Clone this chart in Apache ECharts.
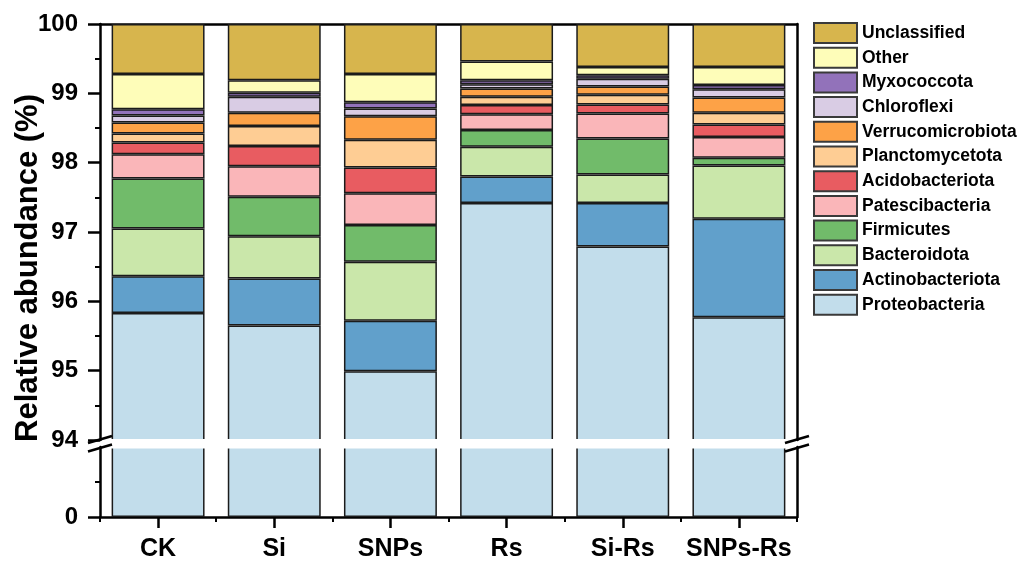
<!DOCTYPE html>
<html>
<head>
<meta charset="utf-8">
<script src="https://cdn.jsdelivr.net/npm/echarts@6/dist/echarts.min.js"></script>
<style>
  html, body { margin: 0; padding: 0; background: #fff; }
  #chart { width: 1027px; height: 568px; }
</style>
</head>
<body>
<div id="chart"></div>
<script>
// Groups on the x axis
const groups = ['CK', 'Si', 'SNPs', 'Rs', 'Si-Rs', 'SNPs-Rs'];

// Relative abundance (%) of each phylum per group, stacked bottom to top
const proteobacteria    = [95.83, 95.65, 94.99, 97.42, 96.79, 95.77];
const actinobacteriota  = [0.53, 0.68, 0.73, 0.38, 0.63, 1.42];
const bacteroidota      = [0.69, 0.61, 0.85, 0.43, 0.41, 0.77];
const firmicutes        = [0.72, 0.57, 0.53, 0.24, 0.52, 0.11];
const patescibacteria   = [0.35, 0.44, 0.46, 0.23, 0.36, 0.30];
const acidobacteriota   = [0.17, 0.29, 0.37, 0.13, 0.13, 0.18];
const planctomycetota   = [0.13, 0.29, 0.40, 0.12, 0.14, 0.17];
const verrucomicrobiota = [0.16, 0.19, 0.34, 0.12, 0.12, 0.22];
const chloroflexi       = [0.10, 0.23, 0.11, 0.06, 0.11, 0.12];
const myxococcota       = [0.09, 0.06, 0.09, 0.06, 0.05, 0.06];
const other             = [0.51, 0.18, 0.41, 0.27, 0.12, 0.26];
const unclassified      = [0.72, 0.81, 0.72, 0.54, 0.62, 0.62];

// Tick values of the two axis segments
const upperTicks = [94, 95, 96, 97, 98, 99, 100];
const lowerTicks = [0];

const phyla = [
  ['Proteobacteria',    proteobacteria,    '#c2ddeb'],
  ['Actinobacteriota',  actinobacteriota,  '#61a0cb'],
  ['Bacteroidota',      bacteroidota,      '#cae7aa'],
  ['Firmicutes',        firmicutes,        '#71bb6a'],
  ['Patescibacteria',   patescibacteria,   '#fab6b9'],
  ['Acidobacteriota',   acidobacteriota,   '#e85c61'],
  ['Planctomycetota',   planctomycetota,   '#fecd94'],
  ['Verrucomicrobiota', verrucomicrobiota, '#fda247'],
  ['Chloroflexi',       chloroflexi,       '#d9cce4'],
  ['Myxococcota',       myxococcota,       '#9272ba'],
  ['Other',             other,             '#fefdb9'],
  ['Unclassified',      unclassified,      '#d7b54d']
];

const FONT = '"Liberation Sans", Arial, Helvetica, sans-serif';
const AXIS_W = 2.5;

// layout of the broken axis: upper segment 94-100, lower segment 0-94 (compressed)
const L = 100, W = 697;
const upTop = 24, upH = 416;
const loTop = 447, loH = 70;

const chart = echarts.init(document.getElementById('chart'));

const barStyle = c => ({ color: c, borderColor: '#1b1b1b', borderWidth: 1.5 });

const series = phyla.map(([name, values, color]) => ({
  name, type: 'bar', stack: 'total', xAxisIndex: 0, yAxisIndex: 0,
  barWidth: '80%', data: values, itemStyle: barStyle(color), emphasis: { disabled: true }
}));
// bottom segment below the break: only the first phylum reaches it
series.push({
  name: 'Proteobacteria', type: 'bar', xAxisIndex: 1, yAxisIndex: 2,
  barWidth: '80%', data: proteobacteria, itemStyle: barStyle(phyla[0][2]), emphasis: { disabled: true }
});

const blackLine = { show: true, lineStyle: { color: '#000', width: AXIS_W } };

// break marks: white band across the plot and paired slashes on both side axes
const yBreakTop = upTop + upH, yBreakBot = loTop;
const slash = (cx, cy) => ({
  type: 'line', z: 101, silent: true,
  shape: { x1: cx - 12, y1: cy + 3.5, x2: cx + 12, y2: cy - 3.5 },
  style: { stroke: '#000', lineWidth: AXIS_W }
});

chart.setOption({
  animation: false,
  backgroundColor: '#fff',
  grid: [
    { left: L, top: upTop, width: W, height: upH },
    { left: L, top: loTop, width: W, height: loH }
  ],
  legend: {
    orient: 'vertical', left: 813, top: 22, padding: 0,
    icon: 'rect',
    itemWidth: 43, itemHeight: 20, itemGap: 2.7,
    selectedMode: false,
    data: phyla.map(p => p[0]).reverse(),
    itemStyle: { borderColor: '#3a3a3a', borderWidth: 2 },
    textStyle: { fontFamily: FONT, fontWeight: 'bold', fontSize: 17.5, color: '#000' }
  },
  xAxis: [
    { gridIndex: 0, type: 'category', data: groups, position: 'top',
      axisLine: blackLine, axisTick: { show: false }, axisLabel: { show: false } },
    { gridIndex: 1, type: 'category', data: groups, position: 'bottom',
      axisLine: blackLine,
      axisTick: { show: true, alignWithLabel: true, length: 11, lineStyle: { color: '#000', width: AXIS_W } },
      axisLabel: { interval: 0, margin: 20, color: '#000', fontFamily: FONT, fontWeight: 'bold', fontSize: 25 } },
    { gridIndex: 1, type: 'category', data: groups, position: 'bottom', offset: 0,
      axisLine: { show: false },
      axisTick: { show: true, interval: 0, length: 5, lineStyle: { color: '#000', width: 2 } },
      axisLabel: { show: false } }
  ],
  yAxis: [
    { gridIndex: 0, type: 'value', position: 'left', min: 94, max: 100, interval: 1,
      axisLine: blackLine,
      axisTick: { show: true, length: 12, customValues: upperTicks, lineStyle: { color: '#000', width: AXIS_W } },
      minorTick: { show: true, splitNumber: 2, length: 5, lineStyle: { color: '#000', width: 2 } },
      axisLabel: { margin: 22, customValues: upperTicks, color: '#000', fontFamily: FONT, fontWeight: 'bold', fontSize: 24 },
      splitLine: { show: false }, minorSplitLine: { show: false } },
    { gridIndex: 0, type: 'value', position: 'right', min: 94, max: 100, interval: 1,
      axisLine: blackLine, axisTick: { show: false }, axisLabel: { show: false }, splitLine: { show: false } },
    { gridIndex: 1, type: 'value', position: 'left', min: 0, max: 94,
      axisLine: blackLine,
      axisTick: { show: true, length: 12, customValues: lowerTicks, lineStyle: { color: '#000', width: AXIS_W } },
      axisLabel: { margin: 22, customValues: lowerTicks, color: '#000', fontFamily: FONT, fontWeight: 'bold', fontSize: 24 },
      splitLine: { show: false } },
    { gridIndex: 1, type: 'value', position: 'left', min: 0, max: 94, offset: 0,
      axisLine: { show: false },
      axisTick: { show: true, length: 5, customValues: [47], lineStyle: { color: '#000', width: 2 } },
      axisLabel: { show: false }, splitLine: { show: false } },
    { gridIndex: 1, type: 'value', position: 'right', min: 0, max: 94,
      axisLine: blackLine, axisTick: { show: false }, axisLabel: { show: false }, splitLine: { show: false } }
  ],
  graphic: [
    { type: 'rect', z: 100, silent: true,
      shape: { x: L + 2, y: yBreakTop - 1, width: W - 3.5, height: yBreakBot - yBreakTop + 2.5 },
      style: { fill: '#fff' } },
    slash(L, yBreakTop - 0.5), slash(L, yBreakBot + 1),
    slash(L + W, yBreakTop - 0.5), slash(L + W, yBreakBot + 1),
    { type: 'text', z: 101, silent: true, x: 28, y: 268, rotation: Math.PI / 2,
      style: { text: 'Relative abundance (%)', fill: '#000', align: 'center', verticalAlign: 'middle',
               font: 'bold 31px ' + FONT } }
  ],
  series
});
</script>
</body>
</html>
